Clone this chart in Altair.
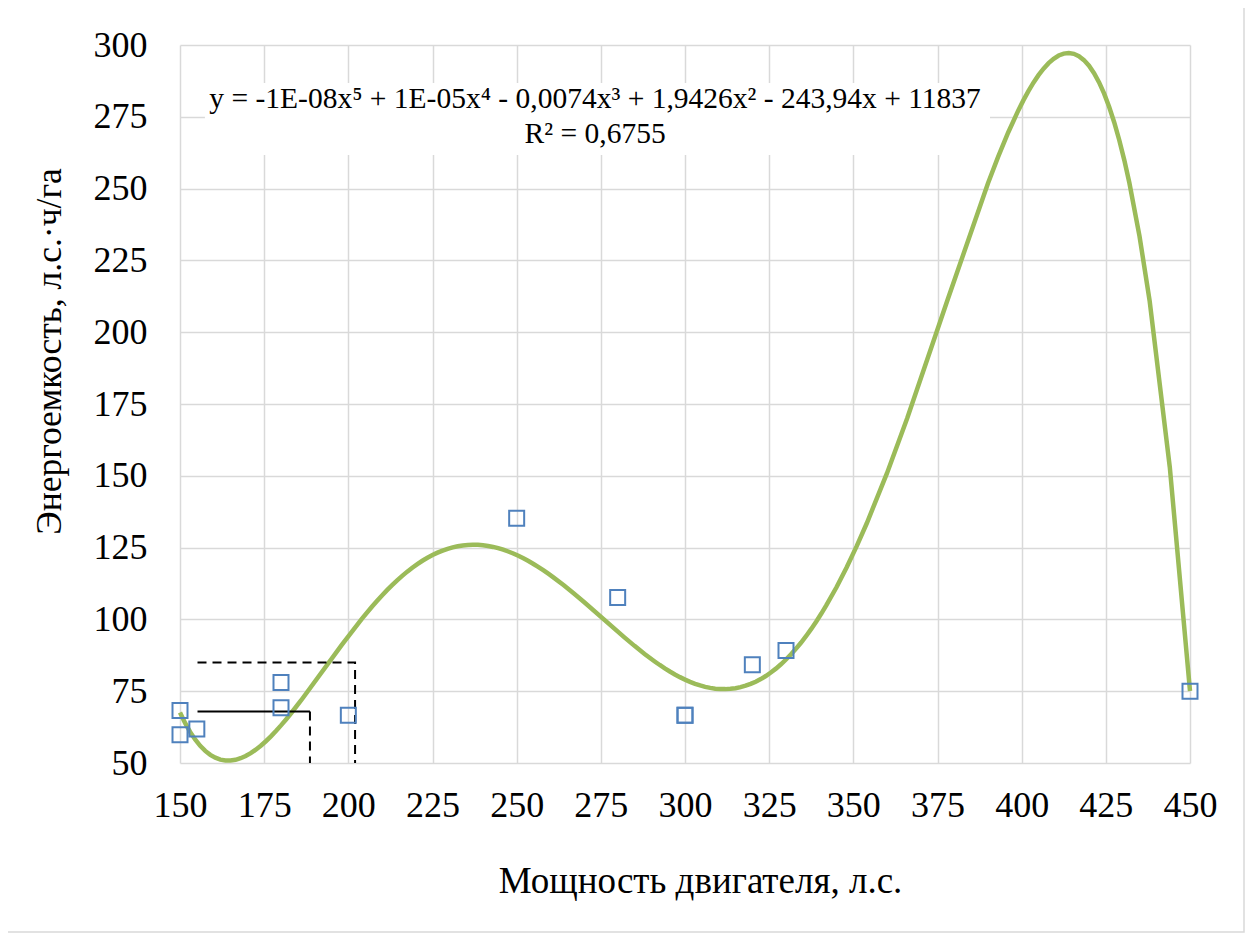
import altair as alt
import pandas as pd

# Data (two coincident points at 300)
power = [150, 150, 155, 180, 180, 200, 250, 280, 300, 300, 320, 330, 450]
energy = [68.3, 59.8, 61.8, 78.0, 69.2, 66.6, 135.2, 107.6, 66.6, 66.6, 84.2, 89.2, 75.0]

x_ticks = [150, 175, 200, 225, 250, 275, 300, 325, 350, 375, 400, 425, 450]
y_ticks = [50, 75, 100, 125, 150, 175, 200, 225, 250, 275, 300]

eq_line1 = "y = -1E-08x⁵ + 1E-05x⁴ - 0,0074x³ + 1,9426x² - 243,94x + 11837"
eq_line2 = "R² = 0,6755"

# Guide lines (annotation)
guide_solid_x = [155.2, 188.6]
guide_solid_y = [67.9, 67.9]
guide_dash_grp = ["a", "a", "b", "b", "b"]
guide_dash_ord = [0, 1, 0, 1, 2]
guide_dash_x = [188.6, 188.6, 155.2, 202.0, 202.0]
guide_dash_y = [67.9, 50.0, 85.0, 85.0, 50.0]

# Equation label position and background box (data coords)
eq_x = [273.3, 273.3]
eq_y = [278.1, 265.9]
box_x = [157.4]
box_x2 = [390.6]
box_y = [261.7]
box_y2 = [286.8]

FONT = "Liberation Serif, Times New Roman, serif"

xs = alt.Scale(domain=[150, 450], nice=False, zero=False)
ys = alt.Scale(domain=[50, 300], nice=False, zero=False)

X = alt.X("x:Q", scale=xs,
          axis=alt.Axis(values=x_ticks, title="Мощность двигателя, л.с.",
                        labelPadding=25, titlePadding=40, labelFlush=False,
                        labelOverlap=False, titleFontSize=37, titleX=520))
Y = alt.Y("y:Q", scale=ys,
          axis=alt.Axis(values=y_ticks, title="Энергоемкость, л.с.·ч/га",
                        labelPadding=33, titlePadding=26, labelFlush=False,
                        labelOverlap=False, titleFontSize=35.5, titleY=306))

df = pd.DataFrame({"x": power, "y": energy})
base = alt.Chart(df)

frame = alt.Chart(pd.DataFrame({"k": [0]})).mark_rect(
    fill=None, stroke="#d9d9d9", strokeWidth=1.5
).encode(x=alt.value(-173), x2=alt.value(1064), y=alt.value(-40), y2=alt.value(887))

box_df = pd.DataFrame({"x": box_x, "x2": box_x2, "y": box_y, "y2": box_y2})
box = alt.Chart(box_df).mark_rect(fill="white").encode(x=X, x2="x2:Q", y=Y, y2="y2:Q")

trend = base.transform_regression("x", "y", method="poly", order=5).mark_line(
    color="#9bbb59", strokeWidth=4.5
).encode(x=X, y=Y)

pts = base.mark_point(shape="square", size=225, filled=False,
                      color="#4f81bd", strokeWidth=2, opacity=1).encode(x=X, y=Y)

solid_df = pd.DataFrame({"x": guide_solid_x, "y": guide_solid_y})
solid = alt.Chart(solid_df).mark_line(color="black", strokeWidth=2).encode(x=X, y=Y)

dash_df = pd.DataFrame({"g": guide_dash_grp, "o": guide_dash_ord,
                        "x": guide_dash_x, "y": guide_dash_y})
dash = alt.Chart(dash_df).mark_line(color="black", strokeWidth=2,
                                    strokeDash=[9, 6]).encode(
    x=X, y=Y, detail="g:N", order="o:Q")

txt_df = pd.DataFrame({"x": eq_x, "y": eq_y, "t": [eq_line1, eq_line2]})
txt = alt.Chart(txt_df).mark_text(font=FONT, fontSize=29.5, color="black",
                                  align="center", baseline="alphabetic").encode(
    x=X, y=Y, text="t:N")

chart = alt.layer(frame, box, trend, solid, dash, pts, txt).properties(
    width=1010, height=718,
    autosize=alt.AutoSizeParams(type="none"),
    padding={"left": 172, "top": 37, "right": 55, "bottom": 170},
).configure(
    background="white", font=FONT
).configure_view(stroke=None).configure_axis(
    grid=True, gridColor="#d9d9d9", gridWidth=1.5, domain=False, ticks=False,
    labelFont=FONT, titleFont=FONT, labelFontSize=36,
    labelColor="black", titleColor="black", titleFontWeight="normal"
).configure_text(font=FONT)

chart.save("out.html", embed_options={"renderer": "svg", "actions": False})
